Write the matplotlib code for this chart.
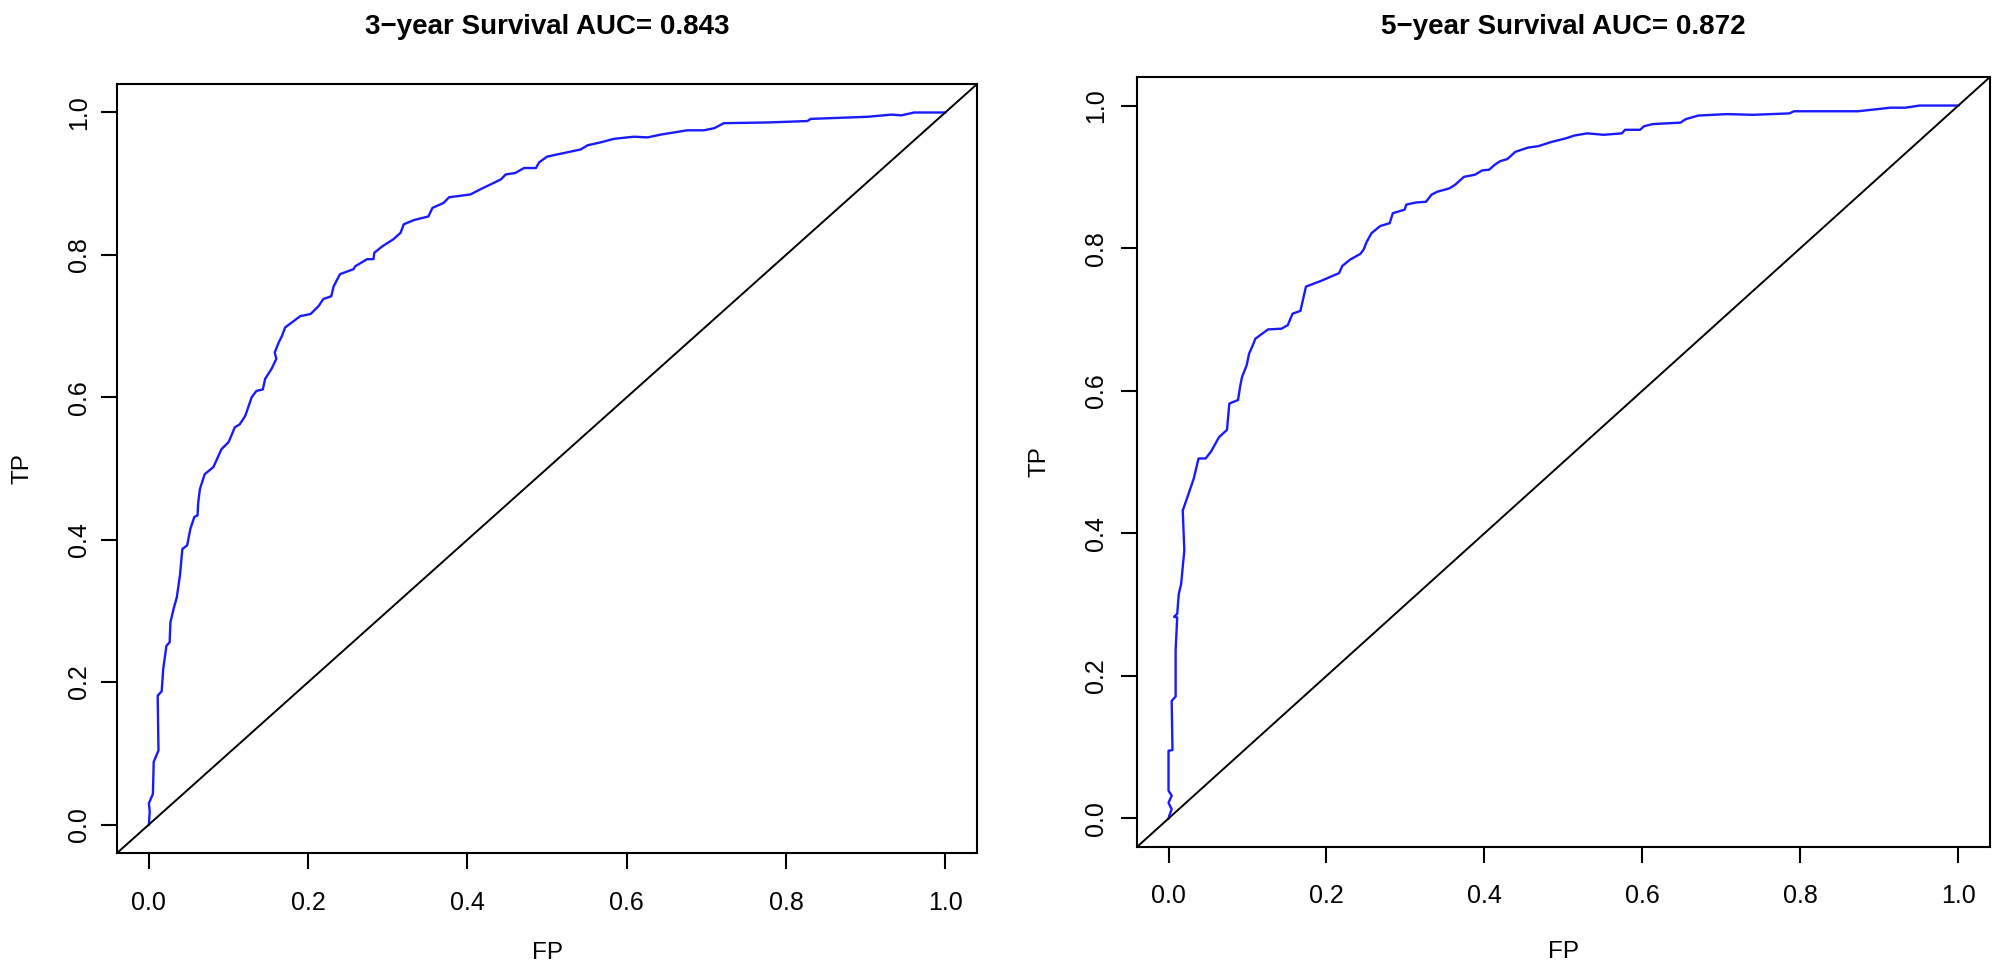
import matplotlib
matplotlib.use('Agg')
import matplotlib.pyplot as plt

plt.rcParams['font.family'] = ['Liberation Sans', 'DejaVu Sans']

# 3-year ROC
fp3 = [0.000, 0.001, 0.000, 0.005, 0.006, 0.012, 0.011, 0.016, 0.018, 0.022,
       0.026, 0.027, 0.031, 0.035, 0.039, 0.042, 0.048, 0.052, 0.057, 0.061,
       0.062, 0.064, 0.070, 0.081, 0.091, 0.100, 0.108, 0.114, 0.121, 0.129,
       0.135, 0.143, 0.146, 0.154, 0.160, 0.158, 0.163, 0.167, 0.171, 0.190,
       0.203, 0.213, 0.219, 0.229, 0.232, 0.240, 0.257, 0.259, 0.274, 0.282,
       0.283, 0.293, 0.307, 0.316, 0.320, 0.333, 0.351, 0.356, 0.370, 0.377,
       0.391, 0.404, 0.416, 0.442, 0.448, 0.460, 0.471, 0.486, 0.490, 0.500,
       0.525, 0.542, 0.551, 0.567, 0.584, 0.609, 0.626, 0.643, 0.676, 0.697,
       0.710, 0.722, 0.777, 0.827, 0.831, 0.903, 0.932, 0.945, 0.961, 0.999,
       1.000]
tp3 = [0.000, 0.018, 0.030, 0.043, 0.088, 0.104, 0.181, 0.187, 0.219, 0.251,
       0.256, 0.284, 0.303, 0.319, 0.350, 0.387, 0.392, 0.415, 0.432, 0.434,
       0.453, 0.471, 0.492, 0.502, 0.527, 0.537, 0.558, 0.562, 0.574, 0.600,
       0.609, 0.611, 0.626, 0.640, 0.654, 0.663, 0.677, 0.686, 0.698, 0.714,
       0.717, 0.728, 0.738, 0.742, 0.756, 0.773, 0.780, 0.784, 0.794, 0.794,
       0.803, 0.812, 0.822, 0.831, 0.843, 0.849, 0.854, 0.866, 0.873, 0.881,
       0.883, 0.885, 0.892, 0.906, 0.913, 0.915, 0.922, 0.922, 0.930, 0.938,
       0.944, 0.948, 0.954, 0.958, 0.963, 0.966, 0.965, 0.969, 0.975, 0.975,
       0.978, 0.985, 0.986, 0.988, 0.991, 0.994, 0.997, 0.996, 1.000, 1.000,
       1.000]

# 5-year ROC
fp5 = [0.000, 0.001, 0.004, 0.000, 0.004, 0.000, 0.000, 0.005, 0.004, 0.009,
       0.009, 0.011, 0.007, 0.011, 0.013, 0.016, 0.018, 0.020, 0.018, 0.024,
       0.032, 0.038, 0.047, 0.054, 0.064, 0.074, 0.077, 0.088, 0.091, 0.093,
       0.099, 0.102, 0.106, 0.110, 0.126, 0.143, 0.151, 0.157, 0.167, 0.174,
       0.193, 0.216, 0.220, 0.230, 0.243, 0.247, 0.251, 0.257, 0.268, 0.280,
       0.284, 0.299, 0.301, 0.313, 0.326, 0.333, 0.340, 0.356, 0.363, 0.374,
       0.388, 0.397, 0.406, 0.413, 0.420, 0.429, 0.439, 0.455, 0.468, 0.485,
       0.503, 0.514, 0.530, 0.551, 0.574, 0.578, 0.597, 0.602, 0.613, 0.648,
       0.655, 0.671, 0.707, 0.740, 0.786, 0.792, 0.873, 0.914, 0.933, 0.951,
       1.000]
tp5 = [0.000, 0.004, 0.013, 0.022, 0.032, 0.039, 0.095, 0.096, 0.165, 0.171,
       0.236, 0.282, 0.283, 0.287, 0.315, 0.329, 0.353, 0.376, 0.432, 0.451,
       0.477, 0.505, 0.505, 0.515, 0.535, 0.545, 0.582, 0.587, 0.608, 0.619,
       0.636, 0.652, 0.662, 0.673, 0.686, 0.687, 0.692, 0.708, 0.712, 0.746,
       0.754, 0.765, 0.775, 0.784, 0.792, 0.798, 0.809, 0.821, 0.831, 0.835,
       0.849, 0.854, 0.861, 0.864, 0.865, 0.875, 0.879, 0.884, 0.889, 0.900,
       0.903, 0.909, 0.910, 0.917, 0.922, 0.925, 0.935, 0.941, 0.943, 0.949,
       0.954, 0.958, 0.961, 0.959, 0.961, 0.966, 0.966, 0.971, 0.974, 0.976,
       0.981, 0.986, 0.988, 0.987, 0.989, 0.992, 0.992, 0.997, 0.997, 1.000,
       1.000]

titles = ['3\u2212year Survival AUC= 0.843', '5\u2212year Survival AUC= 0.872']
ticks = [0.0, 0.2, 0.4, 0.6, 0.8, 1.0]
tick_labels = ['0.0', '0.2', '0.4', '0.6', '0.8', '1.0']


def rocPanel(ax, fp, tp, title, xpad, ypad, fppad, tppad, tpad):
    ax.plot(fp, tp, color='#1a1aff', lw=1.7)
    ax.axline((0, 0), slope=1, color='black', lw=1.4)
    ax.set_xlim(-0.04, 1.04)
    ax.set_ylim(-0.04, 1.04)
    ax.set_xticks(ticks)
    ax.set_xticklabels(tick_labels)
    ax.set_yticks(ticks)
    ax.set_yticklabels(tick_labels, rotation=90, va='center')
    ax.tick_params(axis='both', length=11.5, width=1.5, labelsize=18)
    ax.tick_params(axis='x', pad=xpad)
    ax.tick_params(axis='y', pad=ypad)
    for s in ax.spines.values():
        s.set_linewidth(1.5)
    ax.set_xlabel('FP', fontsize=17.5, labelpad=fppad)
    ax.set_ylabel('TP', fontsize=17.5, labelpad=tppad)
    ax.set_title(title, fontsize=20, fontweight='bold', pad=tpad)


def main():
    fig = plt.figure(figsize=(20.08, 9.69), dpi=100)
    ax1 = fig.add_axes([0.0583, 0.1197, 0.4283, 0.7936])
    ax2 = fig.add_axes([0.5662, 0.1259, 0.4248, 0.7946])
    rocPanel(ax1, fp3, tp3, titles[0], 16, 7.5, 19.5, 24, 36)
    rocPanel(ax2, fp5, tp5, titles[1], 15, 9.5, 24, 24, 31)
    fig.savefig('out.png', dpi=100)


if __name__ == "__main__":
    main()
